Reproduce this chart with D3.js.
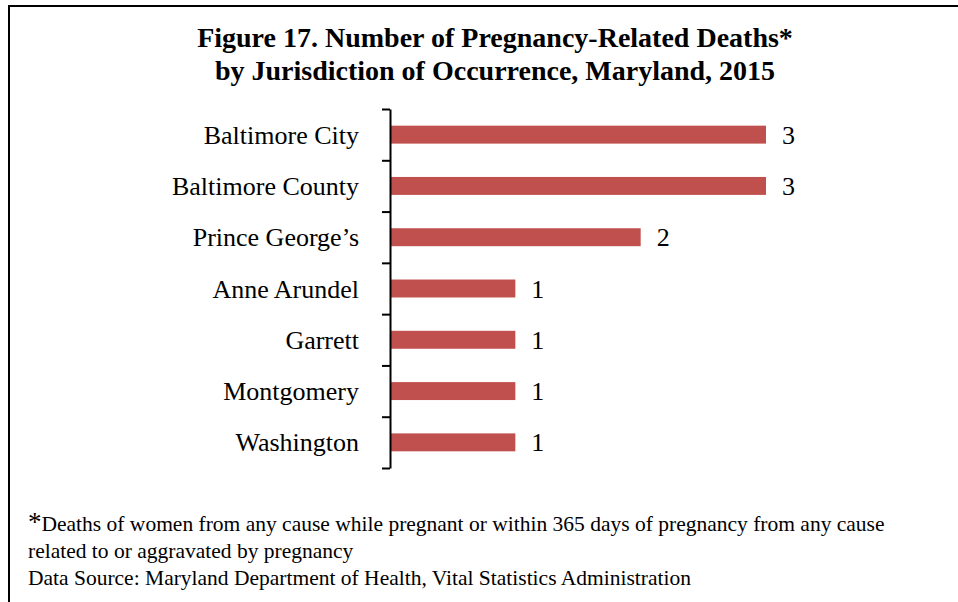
<!DOCTYPE html>
<html>
<head>
<meta charset="utf-8">
<script src="https://cdn.jsdelivr.net/npm/d3@7"></script>
<style>
  body { margin: 0; background: #fff; }
  text { font-family: "Liberation Serif", "Times New Roman", serif; fill: #000; }
</style>
</head>
<body>
<svg width="958" height="602"></svg>
<script>
var jurisdictions = ["Baltimore City", "Baltimore County", "Prince George\u2019s", "Anne Arundel", "Garrett", "Montgomery", "Washington"];
var deaths = [3, 3, 2, 1, 1, 1, 1];
var titleLines = ["Figure 17. Number of Pregnancy-Related Deaths*", "by Jurisdiction of Occurrence, Maryland, 2015"];
var noteLines = ["Deaths of women from any cause while pregnant or within 365 days of pregnancy from any cause",
                 "related to or aggravated by pregnancy",
                 "Data Source: Maryland Department of Health, Vital Statistics Administration"];

var data = jurisdictions.map(function(d, i) { return {name: d, v: deaths[i]}; });

var svg = d3.select("svg");

// frame (only top and left edges show in the figure)
svg.append("path")
    .attr("d", "M9,602V6H958")
    .attr("fill", "none")
    .attr("stroke", "#000")
    .attr("stroke-width", 2);

// title
svg.selectAll(".title")
    .data(titleLines)
    .enter().append("text")
    .attr("class", "title")
    .attr("x", 495)
    .attr("y", function(d, i) { return 47 + i * 33; })
    .attr("text-anchor", "middle")
    .style("font-weight", "bold")
    .style("font-size", "28px")
    .text(function(d) { return d; });

var x0 = 390, y0 = 109, y1 = 468;

var xScale = d3.scaleLinear()
    .domain([0, 3])
    .range([x0, 766]);

var yScale = d3.scaleBand()
    .domain(jurisdictions)
    .range([y0, y1])
    .paddingInner(0.65)
    .paddingOuter(0.325);

// ticks sit between categories
var tickScale = d3.scaleLinear()
    .domain([0, jurisdictions.length])
    .range([y0, y1]);

svg.selectAll("rect.bar")
    .data(data)
    .enter().append("rect")
    .attr("class", "bar")
    .attr("x", xScale(0) + 1)
    .attr("y", function(d) { return yScale(d.name); })
    .attr("width", function(d) { return xScale(d.v) - xScale(0) - 1; })
    .attr("height", yScale.bandwidth())
    .attr("fill", "#C0504D");

// value labels
svg.selectAll("text.val")
    .data(data)
    .enter().append("text")
    .attr("class", "val")
    .attr("x", function(d) { return xScale(d.v) + 16; })
    .attr("y", function(d) { return yScale(d.name) + yScale.bandwidth() / 2 + 9; })
    .style("font-size", "26px")
    .text(function(d) { return d.v; });

// axis line and ticks
var yAxis = d3.axisLeft(tickScale)
    .tickValues(d3.range(jurisdictions.length + 1))
    .tickFormat("")
    .tickSize(8)
    .tickSizeOuter(0);

var gAxis = svg.append("g")
    .attr("class", "y axis")
    .attr("transform", "translate(" + x0 + ",0)")
    .call(yAxis);
gAxis.select(".domain").attr("stroke", "#000").attr("stroke-width", 2);
gAxis.selectAll(".tick line").attr("stroke", "#000").attr("stroke-width", 2);

// category labels
var labelAxis = d3.axisLeft(yScale).tickSize(0).tickPadding(31);
var gLabels = svg.append("g")
    .attr("transform", "translate(" + x0 + ",0)")
    .call(labelAxis);
gLabels.select(".domain").remove();
gLabels.selectAll("text")
    .attr("font-family", null)
    .attr("fill", "#000")
    .style("font-size", "26px")
    .attr("dy", null)
    .attr("y", 9);

// footnote
var note = svg.append("g").style("font-size", "21.5px");
var n1 = note.append("text").attr("x", 28).attr("y", 531);
n1.append("tspan").style("font-size", "27px").text("*");
n1.append("tspan").text(noteLines[0]);
note.append("text").attr("x", 28).attr("y", 558).text(noteLines[1]);
note.append("text").attr("x", 28).attr("y", 585).text(noteLines[2]);
</script>
</body>
</html>
